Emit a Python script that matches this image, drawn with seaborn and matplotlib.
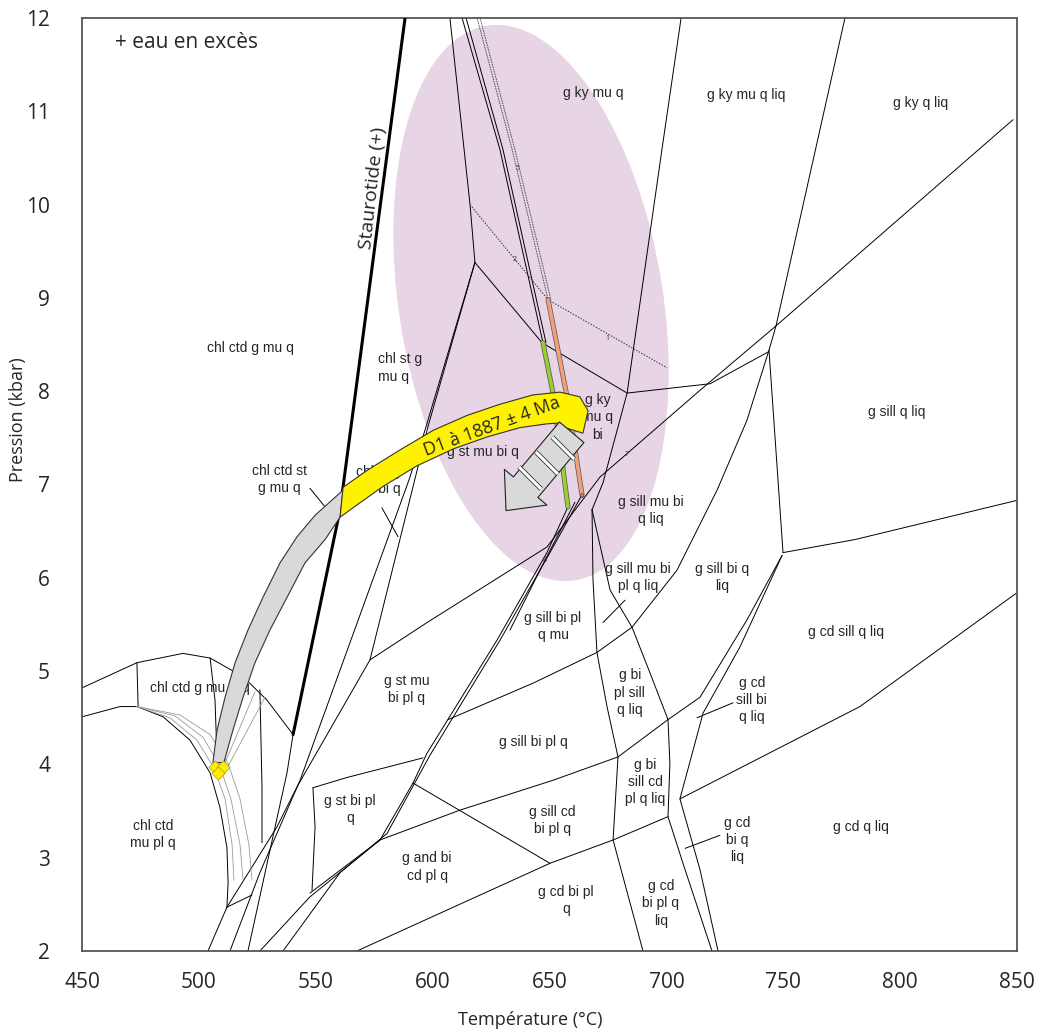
import matplotlib
matplotlib.use("Agg")
import matplotlib.pyplot as plt
import matplotlib.patheffects as pe
from matplotlib.patches import Ellipse
from matplotlib.ticker import MultipleLocator
import pandas as pd
import seaborn as sns

# --- phase boundaries, (T degC, P kbar) ---
stau_line = [(588.2, 12.0), (560.4, 6.73), (540.3, 4.32)]
stau_low = [(540.3, 4.32), (537.7, 3.91), (532.6, 3.33), (521.0, 2.0)]
ky_top_left = [(607.4, 12.0), (616.0, 10.0), (618.1, 9.38)]
ky_bi_top = [(618.1, 9.38), (646.8, 8.52), (683.2, 7.98), (718.7, 8.08), (743.5, 8.42)]
mu_out = [(706.3, 12.0), (698.1, 10.59), (683.2, 7.98), (672.9, 7.02), (668.2, 6.73)]
pl_in = [(668.2, 6.73), (668.6, 5.98), (670.3, 5.20), (674.6, 4.62), (679.3, 4.08),
         (677.2, 3.19), (690.0, 2.0)]
mu_pl = [(668.2, 6.73), (675.9, 5.87), (685.3, 5.47), (693.0, 4.98), (700.7, 4.48),
         (701.5, 4.01), (700.7, 3.44), (707.1, 2.94), (719.5, 2.0)]
bi_liq = [(606.6, 4.48), (642.9, 4.87), (670.3, 5.20), (685.3, 5.47), (704.5, 6.08),
          (721.7, 6.94), (734.5, 7.69), (743.9, 8.44)]
ky_liq = [(776.4, 12.0), (746.9, 8.70), (743.9, 8.44), (749.9, 6.27)]
ky_sill = [(848.3, 10.91), (746.9, 8.70), (714.4, 8.01), (671.6, 7.08), (648.9, 6.33),
           (597.6, 5.52), (573.2, 5.12)]
st_a = [(618.1, 9.38), (598.0, 7.62), (573.2, 5.12), (542.0, 3.76), (533.4, 3.33), (512.0, 2.47)]
st_b = [(618.1, 9.38), (596.7, 7.58), (589.9, 7.05), (543.3, 3.83), (526.1, 2.84), (513.3, 2.0)]
chl_outer = [(450.0, 4.82), (473.5, 5.09), (493.2, 5.19), (504.8, 5.14), (518.9, 4.94),
             (529.1, 4.69), (540.3, 4.32)]
chl_inner = [(450.0, 4.51), (466.3, 4.62), (473.5, 4.62), (484.7, 4.51), (496.2, 4.26),
             (504.8, 3.91), (509.0, 3.54), (512.0, 3.11), (512.5, 2.73), (512.0, 2.47)]
chl_tick_1 = [(473.5, 5.09), (474.0, 4.62)]
chl_tick_2 = [(504.8, 5.14), (506.9, 4.69), (507.8, 4.05)]
chl_tick_3 = [(526.1, 4.80), (527.0, 3.76), (527.0, 3.16)]
chl_foot_1 = [(512.0, 2.47), (522.7, 2.60)]
chl_foot_2 = [(512.0, 2.47), (503.9, 2.0)]
sill_a = [(657.9, 6.76), (648.9, 6.27), (627.5, 5.33), (597.6, 4.12), (591.6, 3.80),
          (577.5, 3.19), (547.5, 2.58), (526.1, 2.0)]
sill_b = [(663.9, 6.89), (650.2, 6.27), (628.8, 5.33), (598.9, 4.10), (580.5, 3.26),
          (560.4, 2.84), (536.0, 2.0)]
sill_c = [(660.9, 6.81), (648.1, 6.19), (633.1, 5.44)]
st_bi_top = [(548.8, 3.75), (563.4, 3.86), (580.5, 3.97), (595.9, 4.07)]
st_bi_left = [(548.8, 3.75), (549.7, 3.33), (548.4, 2.65)]
cd_in = [(547.5, 2.62), (577.5, 3.19), (611.7, 3.51), (651.5, 3.83), (679.3, 4.08), (700.7, 4.48)]
and_sill = [(591.6, 3.80), (650.2, 2.94)]
cd_low = [(567.6, 2.0), (650.2, 2.94), (677.2, 3.19), (700.7, 3.44)]
bi_out = [(705.8, 3.63), (782.8, 4.62), (850.0, 5.84)]
pl_liq_a = [(749.5, 6.24), (734.5, 5.55), (714.4, 4.72), (700.7, 4.48)]
pl_liq_b = [(749.5, 6.24), (731.5, 5.26), (715.7, 4.55), (705.8, 3.63), (714.4, 2.87), (722.1, 2.0)]
cd_top = [(749.9, 6.27), (780.7, 6.41), (850.0, 6.83)]

leader_1 = [(547.5, 6.96), (554.0, 6.76)]
leader_2 = [(578.3, 6.75), (585.2, 6.44)]
leader_3 = [(672.9, 5.52), (682.3, 5.76)]
leader_4 = [(713.1, 4.50), (728.5, 4.66)]
leader_5 = [(708.0, 3.10), (722.9, 3.24)]

# thin grey isopleths around the starting point
fan_1 = [(473.5, 4.62), (487.6, 4.50), (499.2, 4.26), (506.5, 3.96), (511.2, 3.63), (514.2, 3.14), (515.0, 2.76)]
fan_2 = [(473.5, 4.62), (489.8, 4.52), (501.8, 4.29), (509.0, 3.98), (513.7, 3.63), (517.6, 3.14), (518.9, 2.76)]
fan_3 = [(473.5, 4.62), (491.9, 4.53), (504.8, 4.32), (512.5, 4.01), (517.6, 3.63), (521.4, 3.14), (522.7, 2.76)]
ray_1 = [(508.2, 3.94), (519.7, 4.80)]
ray_2 = [(509.9, 3.94), (524.0, 4.78)]
ray_3 = [(511.2, 3.92), (528.3, 4.72)]

# isopleths in the kyanite field
twin_1 = [(612.6, 12.0), (628.8, 10.59), (647.2, 8.52)]
twin_2 = [(614.3, 12.0), (630.1, 10.59), (648.5, 8.52)]
dash_1 = [(619.0, 12.0), (634.0, 10.59), (649.4, 8.98)]
dash_2 = [(620.3, 12.0), (635.2, 10.59), (650.6, 8.98)]
dotted = [(616.0, 10.0), (649.4, 8.98), (700.3, 8.25)]
green_iso = [(647.2, 8.52), (651.5, 7.98), (657.9, 6.76)]
orange_iso = [(649.4, 8.98), (657.5, 7.94), (663.9, 6.89)]
iso_text = ["5", "2", "1", "7", "8", "6"]
iso_T = [636.5, 635.2, 674.6, 683.2, 648.1, 663.9]
iso_P = [10.39, 9.41, 8.57, 7.32, 6.19, 6.87]

# P-T path band: grey (prograde) then yellow (D1)
grey_T = [506.0, 507.8, 511.2, 515.5, 521.0, 527.4, 534.7, 542.0, 549.7, 561.7,
          560.4, 554.0, 545.4, 537.7, 530.4, 524.0, 518.9, 514.6, 510.7]
grey_P = [4.02, 4.37, 4.72, 5.09, 5.44, 5.79, 6.16, 6.44, 6.67, 6.94,
          6.65, 6.41, 6.16, 5.79, 5.44, 5.09, 4.72, 4.37, 4.02]
yellow_T = [561.7, 571.9, 586.0, 600.2, 614.7, 628.8, 642.9, 654.5, 663.0, 666.5, 664.3,
            656.6, 654.5, 648.9, 637.4, 623.3, 608.7, 593.3, 578.8, 567.6, 560.4]
yellow_P = [6.97, 7.15, 7.37, 7.58, 7.74, 7.86, 7.96, 7.99, 7.94, 7.79, 7.55,
            7.61, 7.66, 7.65, 7.61, 7.51, 7.38, 7.20, 6.98, 6.78, 6.65]
arrow_from = (659.5, 7.56)
arrow_to = (631.4, 6.72)
arrow_gap_T = [655.9, 648.9, 641.7]
arrow_gap_P = [7.39, 7.23, 7.07]
start_T = [506.9, 510.3, 508.2]
start_P = [3.97, 3.97, 3.91]

# pink field (ellipse): centre, semi-axes, tilt
ell_T, ell_P = 642.1, 8.945
ell_semi_T, ell_semi_P, ell_tilt = 56.5, 3.01, 9

label_text = ["chl ctd g mu q", "chl st g\nmu q", "g ky mu q", "g ky mu q liq", "g ky q liq",
              "g sill q liq", "g ky\nmu q\nbi", "g st mu bi q", "chl ctd st\ng mu q",
              "chl st g\nmu bi q", "g sill mu bi\nq liq", "g sill mu bi\npl q liq",
              "g sill bi q\nliq", "g sill bi pl\nq mu", "g cd sill q liq", "g st mu\nbi pl q",
              "g sill bi pl q", "g bi\npl sill\nq liq", "g cd\nsill bi\nq liq",
              "g bi\nsill cd\npl q liq", "g st bi pl\nq", "g sill cd\nbi pl q", "g cd\nbi q\nliq",
              "g cd q liq", "chl ctd\nmu pl q", "g and bi\ncd pl q", "g cd bi pl\nq",
              "g cd\nbi pl q\nliq", "chl ctd g mu", "q"]
label_T = [521.9, 586.0, 668.6, 734.1, 808.9, 798.7, 670.7, 621.6, 534.3, 576.6, 693.4, 687.9,
           723.8, 651.5, 776.8, 589.0, 642.9, 684.4, 736.6, 690.9, 564.7, 651.1, 730.2, 783.3,
           480.4, 597.6, 657.1, 697.7, 495.3, 519.7]
label_P = [8.46, 8.25, 11.20, 11.17, 11.09, 7.78, 7.72, 7.35, 7.05, 7.04, 6.72, 6.0, 6.0, 5.48,
           5.42, 4.80, 4.24, 4.77, 4.69, 3.81, 3.52, 3.40, 3.19, 3.33, 3.25, 2.90, 2.54, 2.51,
           4.82, 4.82]

boundaries = [stau_low, ky_top_left, ky_bi_top, mu_out, pl_in, mu_pl, bi_liq, ky_liq, ky_sill,
              st_a, st_b, chl_outer, chl_inner, chl_tick_1, chl_tick_2, chl_tick_3, chl_foot_1,
              chl_foot_2, sill_a, sill_b, sill_c, st_bi_top, st_bi_left, cd_in, and_sill, cd_low,
              bi_out, pl_liq_a, pl_liq_b, cd_top, twin_1, twin_2,
              leader_1, leader_2, leader_3, leader_4, leader_5]
greys = [fan_1, fan_2, fan_3, ray_1, ray_2, ray_3]


def draw_lines(ax, lines, **kw):
    rows = [(i, t, p) for i, line in enumerate(lines) for t, p in line]
    df = pd.DataFrame(rows, columns=["line", "T", "P"])
    sns.lineplot(data=df, x="T", y="P", units="line", estimator=None, sort=False,
                 ax=ax, legend=False, **kw)


sns.set_style("white")
plt.rcParams["font.family"] = ["Open Sans", "DejaVu Sans"]

fig = plt.figure(figsize=(10.39, 10.34), dpi=100)
fig.patch.set_facecolor("white")
ax = fig.add_axes([82 / 1039, 1 - 951 / 1034, 935 / 1039, 933 / 1034])
ax.set_xlim(450, 850)
ax.set_ylim(2, 12)

ax.add_patch(Ellipse(((ell_T - 450) / 400, (ell_P - 2) / 10), width=2 * ell_semi_T / 400,
                     height=2 * ell_semi_P / 10, angle=ell_tilt, transform=ax.transAxes,
                     fc="#e7d4e4", ec="none", zorder=0))

draw_lines(ax, boundaries, color="black", linewidth=0.7, zorder=2)
draw_lines(ax, greys, color="#9a9a9a", linewidth=0.6, zorder=2)
draw_lines(ax, [stau_line], color="black", linewidth=2.2, zorder=3)
draw_lines(ax, [dash_1, dash_2], color="#444444", linewidth=0.6, linestyle=(0, (2, 1)), zorder=2)
draw_lines(ax, [dotted], color="#333333", linewidth=0.7, linestyle=(0, (1.5, 1.5)), zorder=2)
for line, col in [(green_iso, "#9acd32"), (orange_iso, "#f2a07b")]:
    t, p = zip(*line)
    ax.plot(t, p, color=col, lw=2.6, zorder=3,
            path_effects=[pe.Stroke(linewidth=3.6, foreground="#555555"), pe.Normal()])
for s, t, p in zip(iso_text, iso_T, iso_P):
    ax.text(t, p, s, fontsize=5, color="#333333", ha="center", va="center", zorder=3)

for i, (s, t, p) in enumerate(zip(label_text, label_T, label_P)):
    ax.text(t, p, s, fontsize=10, family=["Liberation Sans", "DejaVu Sans"],
            ha="center", va="center", multialignment="left" if i == 1 else "center",
            linespacing=1.3, zorder=4)

ax.fill(grey_T, grey_P, fc="#d9d9d9", ec="#333333", lw=0.8, zorder=5)
ax.fill(yellow_T, yellow_P, fc="#fff200", ec="#333333", lw=0.8, zorder=5)
ax.annotate("", xy=arrow_to, xytext=arrow_from, zorder=6,
            arrowprops=dict(arrowstyle="simple,head_length=1.1,head_width=2.0,tail_width=1.15",
                            fc="#d9d9d9", ec="#222222", lw=0.8, mutation_scale=20,
                            shrinkA=0, shrinkB=0))
# white gaps that cut the arrow into blocks (drawn across the arrow, in pixel space)
inv = ax.transData.inverted()
for t, p in zip(arrow_gap_T, arrow_gap_P):
    cx, cy = ax.transData.transform((t, p))
    ends = inv.transform([(cx - 11, cy + 11), (cx + 11, cy - 11)])
    ax.plot(ends[:, 0], ends[:, 1], color="white", lw=2.2, solid_capstyle="butt", zorder=7,
            path_effects=[pe.Stroke(linewidth=3.4, foreground="#333333"), pe.Normal()])

sns.scatterplot(x=start_T, y=start_P, marker="D", s=45, color="#ffee00",
                edgecolor="#b09a00", linewidth=0.5, ax=ax, zorder=7, legend=False)

ax.text(625.4, 7.62, "D1 à 1887 ± 4 Ma", fontsize=13, rotation=20, ha="center",
        va="center", zorder=7)
ax.text(574.6, 10.18, "Staurotide (+)", fontsize=14, rotation=83.6, ha="center",
        va="center", zorder=4)
ax.text(494.5, 11.74, "+ eau en excès", fontsize=15, ha="center", va="center", zorder=4)

ax.xaxis.set_major_locator(MultipleLocator(50))
ax.xaxis.set_minor_locator(MultipleLocator(10))
ax.yaxis.set_major_locator(MultipleLocator(1))
ax.yaxis.set_minor_locator(MultipleLocator(0.2))
ax.tick_params(which="both", direction="in", color="#777777", width=0.8,
               top=False, right=False)
ax.tick_params(which="major", length=11)
ax.tick_params(which="minor", length=5.5)
ax.tick_params(axis="y", which="major", pad=23, labelsize=15)
ax.tick_params(axis="x", which="major", pad=15, labelsize=15)
ax.set_xlabel("")
ax.set_ylabel("")
for sp in ax.spines.values():
    sp.set_color("#555555")
    sp.set_linewidth(1.3)

fig.text(18 / 1039, 1 - 420 / 1034, "Pression (kbar)", rotation=90, fontsize=13,
         ha="center", va="center")
fig.text(530 / 1039, 1 - 1020 / 1034, "Température (°C)", fontsize=13,
         ha="center", va="center")

fig.savefig("out.png", dpi=100, facecolor="white")
plt.close(fig)
